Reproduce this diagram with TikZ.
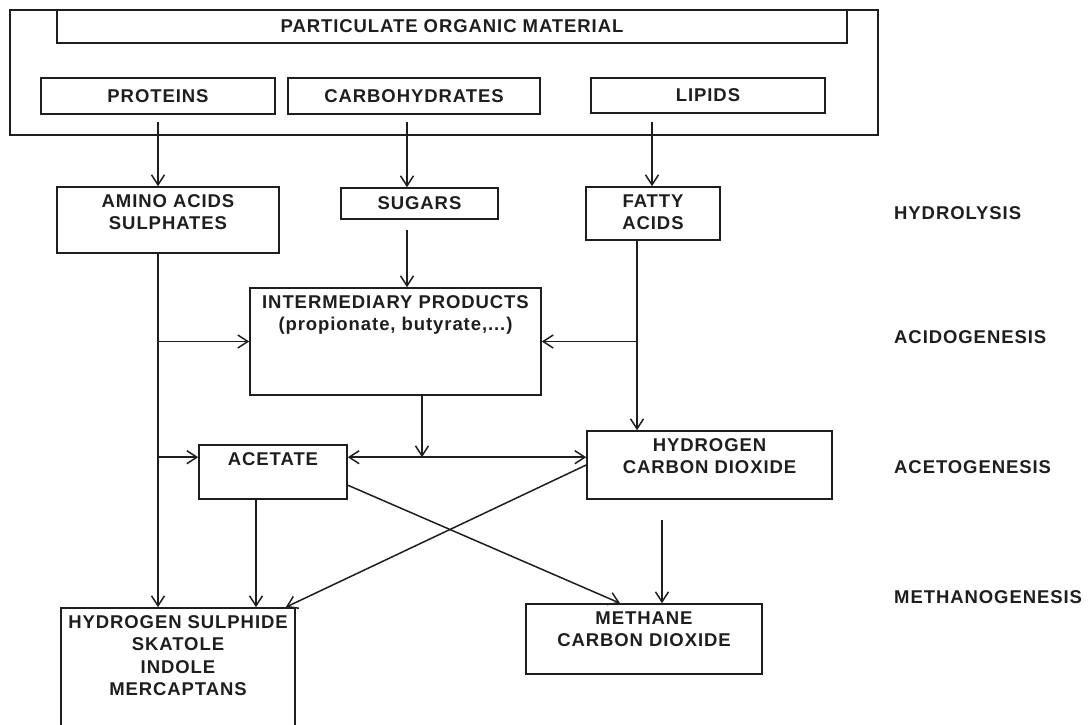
\documentclass[tikz,border=0pt]{standalone}
\usepackage{fontspec}
\newfontfamily\labelfont{Liberation Sans}[LetterSpace=5]
\usetikzlibrary{arrows.meta,calc}
\definecolor{pen}{HTML}{1E1E1E}

\begin{document}
\begin{tikzpicture}[x=1pt,y=-1pt,
  box/.style={draw=pen,line width=1.6pt,inner sep=0pt},
  txt/.style={font=\labelfont\bfseries\fontsize{18.5}{22.5}\selectfont,text=pen,align=center,inner sep=0pt},
  arr/.style={draw=pen,line width=1.5pt,-{Straight Barb[length=10pt,width=13pt]}},
  biarr/.style={arr,{Straight Barb[length=10pt,width=13pt]}-{Straight Barb[length=10pt,width=13pt]}}]
  \useasboundingbox (0,0) rectangle (1089,725);
  \clip (0,0) rectangle (1089,725);
  % source material frame
  \node[box,minimum width=868pt,minimum height=125pt] (src) at (444,72.5) {};
  \foreach \n/\x/\y/\w/\h/\t in {pom/452/26.5/790/33/{PARTICULATE ORGANIC MATERIAL},prot/158/96/234/36/PROTEINS,carb/414/96/252/36/CARBOHYDRATES,lip/708/95.5/234/35/LIPIDS,sugar/419.5/203.5/157/31/SUGARS}
    \node[box,txt,minimum width=\w pt,minimum height=\h pt] (\n) at (\x,\y) {\t};
  % boxes with text at the top
  \foreach \n/\x/\y/\w/\h/\t in {amino/168/220/222/66/{AMINO ACIDS\\SULPHATES},fatty/653/213.5/134/53/{FATTY\\ACIDS},inter/395.5/341.5/291/107/{INTERMEDIARY PRODUCTS\\(propionate, butyrate,...)},acet/273/472/148/54/ACETATE,hcd/709.5/465/245/68/{HYDROGEN\\CARBON DIOXIDE},hs/178/670/234/124/{HYDROGEN SULPHIDE\\SKATOLE\\INDOLE\\MERCAPTANS},meth/644/639/236/70/{METHANE\\CARBON DIOXIDE}} {
    \node[box,minimum width=\w pt,minimum height=\h pt] (\n) at (\x,\y) {};
    \node[txt,anchor=north] (\n-txt) at ([yshift=-8pt]\n.north) {\t};
  }
  % stages
  \foreach \n/\y/\t in {hydro/213/HYDROLYSIS,acido/337/ACIDOGENESIS,aceto/467/ACETOGENESIS,methano/597/METHANOGENESIS}
    \node[txt,anchor=west] (\n) at (894,\y) {\t};

  \coordinate (pin) at (158,122);
  \coordinate (cin) at (407,122);
  \coordinate (lin) at (652,122);
  \coordinate (sline) at (407,230);
  \coordinate (trunk) at (158,253);
  \coordinate (fline) at (637,240);
  \coordinate (iout) at (422,395);
  \coordinate (aout) at (256,499);
  \coordinate (hout) at (662,520);
  \coordinate (acin) at ([yshift=-13pt]acet.north west);
  \coordinate (acout) at ([yshift=-13pt]acet.north east);
  \coordinate (acdiag) at ([yshift=-41pt]acet.north east);

  \draw[arr] (pin) -- (pin |- amino.north);
  \draw[arr] (cin) -- (cin |- sugar.north);
  \draw[arr] (lin) -- (lin |- fatty.north);
  \draw[arr] (sline) -- (sline |- inter.north);
  \draw[arr] (trunk) -- (trunk |- hs.north);
  \draw[arr] (trunk |- inter.west) -- (inter.west);
  \draw[arr] (trunk |- acin) -- (acin);
  \draw[arr] (fline) -- (fline |- hcd.north);
  \draw[arr] (fline |- inter.east) -- (inter.east);
  \draw[biarr] (acout) -- (acout -| hcd.west);
  \draw[arr] (iout) -- (iout |- acout);
  \draw[arr] (aout) -- (aout |- hs.north);
  \draw[arr] (acdiag) -- ([xshift=-24pt]meth.north);
  \draw[arr] (hcd.west) -- ([xshift=-10pt]hs.north east);
  \draw[arr] (hout) -- (hout |- meth.north);
\end{tikzpicture}
\end{document}
